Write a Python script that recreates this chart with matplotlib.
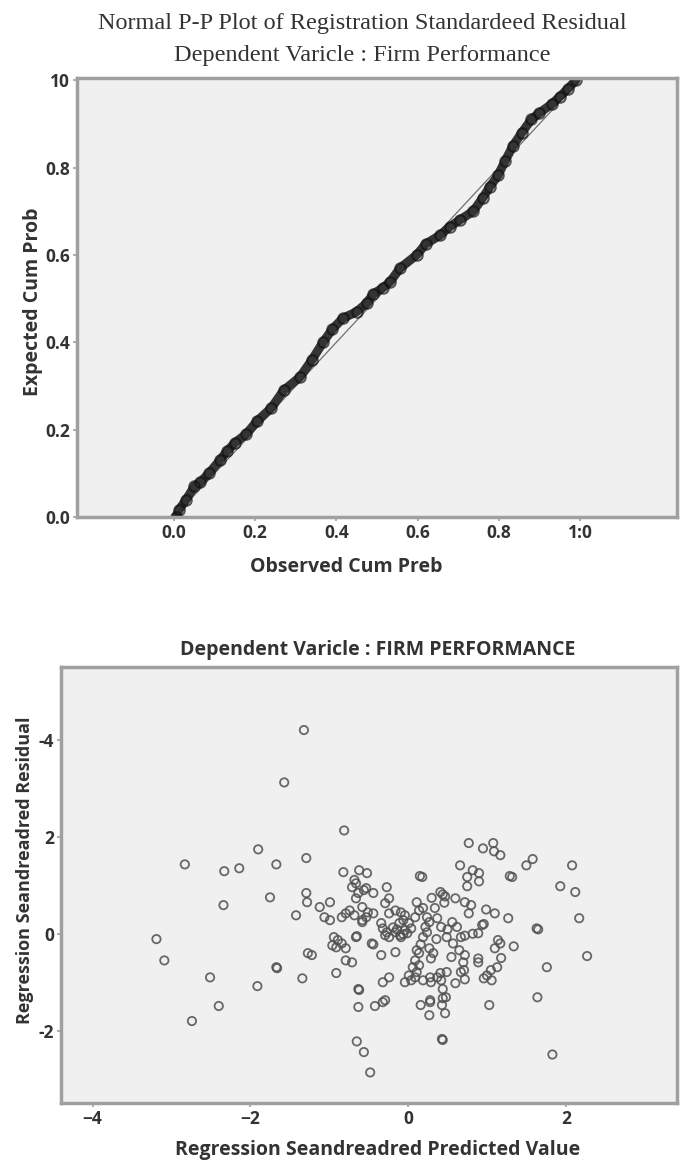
import numpy as np
import matplotlib.pyplot as plt

plt.rcParams['font.family'] = ['Open Sans', 'DejaVu Sans']

# P-P plot
pp_observed = [0.005, 0.012, 0.03, 0.05, 0.065, 0.086, 0.113, 0.13, 0.15, 0.178, 0.205,
               0.24, 0.27, 0.31, 0.34, 0.367, 0.39, 0.416, 0.45, 0.475, 0.49, 0.515,
               0.532, 0.557, 0.598, 0.62, 0.655, 0.68, 0.704, 0.737, 0.76, 0.778, 0.798,
               0.815, 0.835, 0.857, 0.88, 0.90, 0.93, 0.95, 0.97, 0.99]
pp_expected = [0.0, 0.016, 0.04, 0.07, 0.08, 0.10, 0.13, 0.15, 0.17, 0.19, 0.22,
               0.25, 0.29, 0.32, 0.36, 0.40, 0.43, 0.455, 0.47, 0.49, 0.51, 0.525,
               0.538, 0.57, 0.60, 0.625, 0.645, 0.665, 0.68, 0.70, 0.73, 0.756, 0.782,
               0.814, 0.85, 0.88, 0.91, 0.925, 0.945, 0.962, 0.98, 1.0]
pp_xticks = [0.0, 0.2, 0.4, 0.6, 0.8, 1.0]
pp_xticklabels = ['0.0', '0.2', '0.4', '0.6', '0.8', '1:0']
pp_yticks = [0.0, 0.2, 0.4, 0.6, 0.8, 1.0]
pp_yticklabels = ['0.0', '0.2', '0.4', '0.6', '0.8', '10']

# residual scatter (predicted, residual)
points = [
    (-1.32, 4.21), (-1.57, 3.13), (-0.81, 2.14), (-1.90, 1.75), (-2.83, 1.44), (-2.33, 1.30),
    (-2.14, 1.36), (-1.67, 1.44), (-1.29, 1.57), (-0.82, 1.28), (-0.62, 1.32), (-0.52, 1.26),
    (0.77, 1.88), (0.95, 1.77), (1.08, 1.88), (1.09, 1.71), (1.17, 1.63), (1.50, 1.42),
    (1.58, 1.55), (2.08, 1.42), (0.66, 1.42), (0.82, 1.32), (0.90, 1.26), (0.75, 1.18),
    (0.90, 1.09), (0.75, 0.99), (1.32, 1.18), (0.18, 1.18), (1.93, 0.99), (2.12, 0.87),
    (2.17, 0.33), (2.27, -0.45), (1.76, -0.68), (1.64, -1.30), (1.65, 0.10), (1.63, 0.12),
    (1.34, -0.25), (1.27, 0.33), (1.10, 0.43), (0.99, 0.51), (0.94, 0.19), (0.96, 0.21),
    (0.89, 0.02), (1.14, -0.12), (1.17, -0.19), (1.10, -0.29), (1.18, -0.49), (1.13, -0.68),
    (1.05, -0.74), (1.00, -0.85), (1.06, -0.95), (0.96, -0.91), (0.89, -0.50), (0.89, -0.58),
    (1.03, -1.46), (0.82, 0.01), (0.72, -0.03), (0.67, -0.06), (0.72, 0.66), (0.80, 0.60),
    (0.60, 0.74), (0.47, 0.78), (0.41, 0.87), (0.44, 0.82), (0.77, 0.43), (0.56, 0.25),
    (0.62, 0.15), (0.49, -0.06), (0.57, -0.19), (0.65, -0.33), (0.55, -0.47), (0.72, -0.43),
    (0.70, -0.58), (0.67, -0.78), (0.71, -0.74), (0.72, -0.93), (0.60, -1.01), (0.41, -0.80),
    (0.49, -0.78), (0.42, -0.95), (0.37, -0.89), (0.29, -0.99), (0.19, -0.95), (0.28, -0.89),
    (0.44, -1.32), (0.48, -1.30), (0.43, -1.46), (0.47, -1.63), (0.28, -1.36), (0.27, -1.67),
    (0.16, -1.46), (0.44, -1.13), (0.11, 0.66), (0.14, 0.49), (0.19, 0.54), (0.34, 0.54),
    (0.24, 0.35), (0.27, 0.25), (0.37, 0.33), (0.42, 0.15), (0.22, 0.15), (0.24, 0.04),
    (0.19, -0.06), (0.16, -0.21), (0.11, -0.33), (0.14, -0.39), (0.27, -0.29), (0.32, -0.39),
    (0.29, -0.50), (0.09, -0.54), (0.14, -0.64), (0.06, -0.68), (0.11, -0.78), (0.09, -0.89),
    (0.04, -0.95), (-0.04, -0.99), (0.01, -0.85), (-0.01, 0.02), (-0.04, 0.08), (-0.09, -0.06),
    (-0.16, 0.04), (-0.19, 0.14), (-0.11, 0.23), (-0.06, 0.29), (0.01, 0.23), (-0.27, 0.04),
    (-0.29, -0.02), (-0.24, -0.06), (-0.32, 0.12), (-0.34, 0.23), (-0.24, 0.43), (-0.16, 0.49),
    (-0.09, 0.45), (-0.04, 0.39), (0.09, 0.35), (-0.27, 0.97), (-0.24, 0.74), (-0.29, 0.64),
    (-0.44, 0.85), (-0.53, 0.95), (-0.44, 0.43), (-0.53, 0.35), (-0.58, 0.29), (-0.51, 0.45),
    (-0.68, 1.12), (-0.66, 1.05), (-0.71, 0.97), (-0.63, 0.85), (-0.56, 0.91), (-0.66, 0.74),
    (-0.58, 0.56), (-0.79, 0.43), (-0.68, 0.39), (-0.74, 0.49), (-0.84, 0.35), (-0.99, 0.66),
    (-1.12, 0.56), (-1.06, 0.35), (-0.99, 0.29), (-1.29, 0.85), (-1.28, 0.66), (-1.42, 0.39),
    (-1.75, 0.76), (-2.34, 0.60), (-3.19, -0.10), (-3.09, -0.54), (-2.51, -0.89), (-2.40, -1.48),
    (-1.91, -1.07), (-1.67, -0.68), (-1.66, -0.70), (-1.34, -0.91), (-1.27, -0.39), (-1.22, -0.43),
    (-0.91, -0.80), (-0.94, -0.06), (-0.89, -0.12), (-0.96, -0.23), (-0.84, -0.19), (-0.79, -0.29),
    (-0.91, -0.27), (-0.66, -0.06), (-0.65, -0.04), (-0.79, -0.54), (-0.71, -0.58), (-0.46, -0.19),
    (-0.44, -0.21), (-0.34, -0.43), (-0.16, -0.37), (-0.24, -0.89), (-0.32, -0.99), (-0.63, -1.13),
    (-0.62, -1.15), (-0.63, -1.50), (-0.42, -1.48), (-0.29, -1.36), (-0.58, 0.25), (-2.74, -1.79),
    (-0.65, -2.21), (-0.56, -2.43), (-0.48, -2.85), (0.28, -1.40), (0.43, -2.16), (0.44, -2.18),
    (1.83, -2.48), (-0.32, -1.40), (-0.14, 0.10), (-0.06, 0.00), (-0.10, -0.02), (0.04, 0.12),
    (0.30, 0.75), (0.46, 0.65), (0.36, -0.10), (0.50, 0.10), (0.15, 1.20), (1.29, 1.20),
]
pred = [p[0] for p in points]
resid = [p[1] for p in points]
sc_xticks = [-4, -2, 0, 2]
sc_yticks = [4, 2, 0, -2]
sc_yticklabels = ['-4', '2', '0', '-2']

W, H = 681, 1164
fig = plt.figure(figsize=(W / 100, H / 100), dpi=100)

def box(left, top, right, bottom):
    return [left / W, 1 - bottom / H, (right - left) / W, (bottom - top) / H]

def style(ax):
    ax.set_facecolor('#f0f0f0')
    for s in ax.spines.values():
        s.set_color('#a0a0a0')
        s.set_linewidth(2.5)
    ax.tick_params(direction='out', length=3, width=1.5, color='#b0b0b0',
                   labelcolor='#333333', labelsize=12.5, pad=2)
    for lab in ax.get_xticklabels() + ax.get_yticklabels():
        lab.set_fontweight('bold')

# --- P-P plot ---
ax1 = fig.add_axes(box(77, 78, 677, 517))
ax1.plot([0, 1], [0, 1], color='#707070', lw=0.9)
ax1.plot(pp_observed, pp_expected, color='#2a2a2a', lw=6.5, alpha=0.95,
         solid_capstyle='round')
ax1.plot(pp_observed, pp_expected, ls='none', marker='o', ms=7.5,
         mfc='none', mec='#111111', mew=1.5, alpha=0.7)
ax1.set_xlim(-0.239, 1.239)
ax1.set_ylim(0, 1.005)
ax1.set_xticks(pp_xticks)
ax1.set_xticklabels(pp_xticklabels)
ax1.set_yticks(pp_yticks)
ax1.set_yticklabels(pp_yticklabels)
style(ax1)

fig.text(362 / W, 1 - 24 / H, 'Normal P-P Plot of Registration Standardeed Residual',
         family='Liberation Serif', size=17.5, color='#333333', ha='center', va='center')
fig.text(362 / W, 1 - 55 / H, 'Dependent Varicle : Firm Performance',
         family='Liberation Serif', size=17.5, color='#333333', ha='center', va='center')
fig.text(346 / W, 1 - 567 / H, 'Observed Cum Preb', size=14, weight='bold',
         color='#333333', ha='center', va='center')
fig.text(33 / W, 1 - 302 / H, 'Expected Cum Prob', size=14, weight='bold',
         color='#333333', ha='center', va='center', rotation=90)

# --- residual scatter ---
ax2 = fig.add_axes(box(61, 667, 677, 1103))
ax2.scatter(pred, resid, s=36, facecolors='none', edgecolors='#505050',
            linewidths=1.3, alpha=0.85)
ax2.set_xlim(-4.40, 3.41)
ax2.set_ylim(-3.48, 5.51)
ax2.set_xticks(sc_xticks)
ax2.set_yticks(sc_yticks)
ax2.set_yticklabels(sc_yticklabels)
style(ax2)

fig.text(378 / W, 1 - 650 / H, 'Dependent Varicle : FIRM PERFORMANCE', size=14,
         weight='bold', color='#333333', ha='center', va='center')
fig.text(378 / W, 1 - 1150 / H, 'Regression Seandreadred Predicted Value', size=14,
         weight='bold', color='#333333', ha='center', va='center')
fig.text(25 / W, 1 - 870 / H, 'Regression Seandreadred Residual', size=13,
         weight='bold', color='#333333', ha='center', va='center', rotation=90)

fig.savefig('out.png', dpi=100)
